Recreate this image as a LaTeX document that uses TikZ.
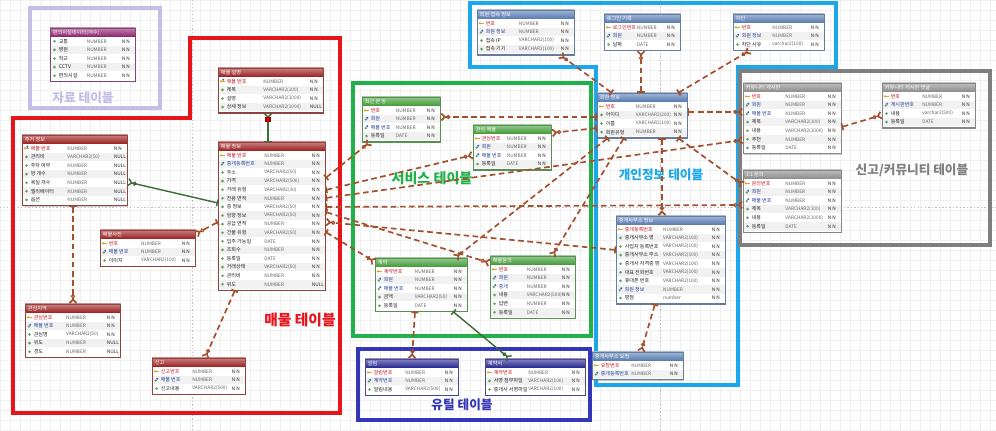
\documentclass[tikz,border=0pt]{standalone}
\usepackage{fontspec}
\setmainfont{Noto Sans CJK KR}
\usetikzlibrary{calc,arrows.meta,shadows}

\definecolor{hdrpurple}{HTML}{8B1F6C}
\definecolor{hdrred}{HTML}{9B1B1B}
\definecolor{hdrgreen}{HTML}{3F9A35}
\definecolor{hdrnavy}{HTML}{22228F}
\definecolor{hdrsteel}{HTML}{5579B0}
\definecolor{hdrgray}{HTML}{8A8A8A}
\definecolor{boxlav}{HTML}{C5BDE6}
\definecolor{boxred}{HTML}{E8141C}
\definecolor{boxgreen}{HTML}{22B04A}
\definecolor{boxnavy}{HTML}{3436B8}
\definecolor{boxcyan}{HTML}{1AA7EC}
\definecolor{boxgray}{HTML}{7F7F7F}
\definecolor{relbrown}{HTML}{A5502D}
\definecolor{idgreen}{HTML}{3D6B35}
\definecolor{pkred}{HTML}{C8141E}
\definecolor{fkblue}{HTML}{1E3C96}
\definecolor{coltext}{HTML}{222222}
\definecolor{colgreen}{HTML}{5AA05A}
\definecolor{keyyellow}{HTML}{D9A520}
\definecolor{fkicon}{HTML}{3C64C8}
\definecolor{rowshade}{HTML}{F1F1F1}

\tikzset{
  tblbox/.style={anchor=north west, inner sep=0pt, fill=white, line width=0.4pt,
    drop shadow={shadow xshift=0.8pt, shadow yshift=-0.8pt, opacity=0.35}},
  tbltitle/.style={anchor=west, inner sep=0pt, text=white, font=\fontsize{3.7}{4}\selectfont},
  colname/.style={anchor=west, inner sep=0pt, font=\fontsize{3.6}{4}\selectfont},
  coltype/.style={anchor=west, inner sep=0pt, text=black!60, font=\fontsize{3.4}{4}\selectfont},
  colnull/.style={anchor=west, inner sep=0pt, text=black!85, font=\fontsize{3.4}{4}\selectfont},
  grp/.style={line width=2.2pt},
  grplabel/.style={inner sep=0pt, font=\fontsize{9}{10}\selectfont\bfseries},
  rel/.style={draw=relbrown, line width=1.2pt, dash pattern=on 4pt off 2.5pt,
    {Bar[width=5pt]}-{Circle[open,length=3pt,line width=0.8pt]Straight Barb[reversed,length=2.5pt,width=5pt]}},
  idrel/.style={draw=idgreen, line width=1pt,
    {Bar[width=5pt]}-{Circle[open,length=3pt,line width=0.8pt]Straight Barb[reversed,length=2.5pt,width=5pt]}},
  selmark/.style={fill=red, draw=red!60!black, minimum size=3pt, inner sep=0pt},
  pagebreak/.style={draw=black!25, line width=0.4pt, dash pattern=on 1pt off 1.5pt}
}

% table: name, x, y, width, header colour, title, rows, columns (kind/name/type/null)
\newcommand{\ertable}[8]{%
  \node[tblbox, draw=#5!60!gray, minimum width={#4*0.025cm}, minimum height={(10+#7*8.6)*0.025cm}] (#1) at (#2,#3) {};
  \shade[top color=#5!55!white, bottom color=#5] (#1.north west) rectangle ($(#1.north east)+(0,9)$);
  \node[tbltitle] (#1-title) at ($(#1.north west)+(2.5,4.5)$) {#6};
  \foreach \kk/\cn/\ct/\cnull [count=\i] in {#8}{%
    \pgfmathsetmacro{\ry}{9+(\i-0.5)*8.6}
    \ifodd\i\else
      \fill[rowshade] ($(#1.north west)+(0.4,\ry-4.3)$) rectangle ($(#1.north east)+(-0.4,\ry+4.3)$);
    \fi
    \ifcase\kk\relax
      \def\nc{coltext}
      \fill[colgreen] ($(#1.north west)+(4.5,\ry)$) circle (1pt);
    \or
      \def\nc{pkred}
      \fill[keyyellow] ($(#1.north west)+(3,\ry)$) circle (0.9pt);
      \draw[keyyellow, line width=0.5pt] ($(#1.north west)+(3,\ry)$) -- ++(3.5,0);
    \or
      \def\nc{fkblue}
      \fill[colgreen] ($(#1.north west)+(3.8,\ry+0.6)$) circle (0.9pt);
      \fill[fkicon] ($(#1.north west)+(5.2,\ry-1.2)$) circle (0.8pt);
    \or
      \def\nc{pkred}
      \fill[keyyellow] ($(#1.north west)+(3,\ry)$) circle (0.9pt);
      \draw[keyyellow, line width=0.5pt] ($(#1.north west)+(3,\ry)$) -- ++(3.5,0);
      \fill[fkicon] ($(#1.north west)+(5.2,\ry-1.5)$) circle (0.8pt);
    \fi
    \node[colname, text=\nc] (#1-c\i) at ($(#1.north west)+(8.5,\ry)$) {\cn};
    \node[coltype] (#1-t\i) at ($(#1.north west)+(#4*0.43,\ry)$) {\ct};
    \node[colnull] (#1-n\i) at ($(#1.north east)+(-14,\ry)$) {\cnull};
  }
  \draw[draw=#5!60!gray, line width=0.4pt] (#1.north west) rectangle (#1.south east);
}

\begin{document}
\begin{tikzpicture}[x=0.025cm, y=-0.025cm]
\fill[white] (0,0) rectangle (996,431);
\useasboundingbox (0,0) rectangle (996,431);
\draw[black!6, line width=0.2pt, step=0.25cm] (0,431) grid (996,0);
\draw[pagebreak] (192,0) -- (192,431);
\draw[pagebreak] (660,0) -- (660,431);
\draw[pagebreak] (0,207) -- (996,207);

% group frames
\draw[grp, draw=boxlav] (30,8) rectangle (160,108);
\draw[grp, draw=boxred] (13,118) -- (190,118) -- (190,38) -- (340,38) -- (340,413) -- (13,413) -- cycle;
\draw[grp, draw=boxgreen] (353,83) rectangle (591,336);
\draw[grp, draw=boxnavy] (358,349) rectangle (590,420);
\draw[grp, draw=boxcyan, line width=3pt] (470,3) -- (836,3) -- (836,67) -- (738,67) -- (738,385) -- (596,385) -- (596,67) -- (470,67) -- cycle;
\draw[grp, draw=boxgray, line width=3pt] (740,71) rectangle (990,245);

\node[grplabel, text=boxlav] (lbl-data) at (83,98) {자료 테이블};
\node[grplabel, text=boxred, font=\fontsize{10.5}{12}\selectfont\bfseries] (lbl-house) at (300,320) {매물 테이블};
\node[grplabel, text=boxgreen, font=\fontsize{10}{12}\selectfont\bfseries] (lbl-svc) at (432,178) {서비스 테이블};
\node[grplabel, text=boxnavy] (lbl-util) at (462,405) {유틸 테이블};
\node[grplabel, text=boxcyan] (lbl-priv) at (661,175) {개인정보 테이블};
\node[grplabel, text=boxgray] (lbl-comm) at (912,170) {신고/커뮤니티 테이블};

% tables
\ertable{datatbl}{50}{28}{85}{hdrpurple}{편의시설데이터(개수)}{5}{0/교통/NUMBER/N N, 0/병원/NUMBER/N N, 0/학교/NUMBER/N N, 0/CCTV/NUMBER/N N, 0/편의시설/NUMBER/N N}
\ertable{house}{22}{135}{105}{hdrred}{주거 정보}{7}{3/매물 번호/NUMBER/N N, 0/관리비/VARCHAR2(50)/NULL, 0/주차 여부/NUMBER/NULL, 0/방 개수/NUMBER/NULL, 0/욕실 개수/NUMBER/NULL, 0/엘리베이터/NUMBER/NULL, 0/옵션/NUMBER/NULL}
\ertable{mdesc}{218}{68}{105}{hdrred}{매물 설명}{4}{3/매물 번호/NUMBER/N N, 0/제목/VARCHAR2(100)/N N, 0/설명/VARCHAR2(1000)/N N, 0/상세 정보/VARCHAR2(1000)/NULL}
\ertable{minfo}{218}{142}{107}{hdrred}{매물 정보}{16}{1/매물 번호/NUMBER/N N, 2/중개등록번호/NUMBER/N N, 0/주소/VARCHAR2(50)/N N, 0/가격/VARCHAR2(500)/N N, 0/거래 유형/VARCHAR2(30)/N N, 0/전용 면적/NUMBER/N N, 0/층 정보/VARCHAR2(50)/N N, 0/방향 정보/VARCHAR2(50)/N N, 0/공급 면적/NUMBER/N N, 0/건물 유형/VARCHAR2(50)/N N, 0/입주 가능일/DATE/N N, 0/조회수/NUMBER/N N, 0/등록일/DATE/N N, 0/거래상태/VARCHAR2(50)/N N, 0/관리비/NUMBER/N N, 0/위도/NUMBER/NULL}
\ertable{mphoto}{100}{230}{95}{hdrred}{매물사진}{3}{1/번호/NUMBER/N N, 2/매물 번호/NUMBER/N N, 0/이미지/VARCHAR2(100)/N N}
\ertable{fav0}{25}{304}{95}{hdrred}{관심지역}{5}{1/관심번호/NUMBER/N N, 2/매물 번호/NUMBER/N N, 0/관심명/VARCHAR2(50)/N N, 0/위도/NUMBER/NULL, 0/경도/NUMBER/NULL}
\ertable{report}{152}{358}{93}{hdrred}{신고}{3}{1/신고번호/NUMBER/N N, 2/매물 번호/NUMBER/N N, 0/신고내용/VARCHAR2(500)/N N}

\ertable{recent}{362}{97}{78}{hdrgreen}{최근 본 방}{4}{1/번호/NUMBER/N N, 2/회원/NUMBER/N N, 2/매물 번호/NUMBER/N N, 0/등록일/DATE/N N}
\ertable{like}{473}{125}{78}{hdrgreen}{관심 매물}{4}{1/관심번호/NUMBER/N N, 2/회원/NUMBER/N N, 2/매물 번호/NUMBER/N N, 0/등록일/DATE/N N}
\ertable{contract}{375}{258}{92}{hdrgreen}{계약}{5}{1/계약번호/NUMBER/N N, 2/회원/NUMBER/N N, 2/매물 번호/NUMBER/N N, 0/금액/VARCHAR2(50)/N N, 0/등록일/DATE/N N}
\ertable{inquiry}{490}{256}{85}{hdrgreen}{매물문의}{6}{1/번호/NUMBER/N N, 2/회원/NUMBER/N N, 2/중개/NUMBER/N N, 0/내용/VARCHAR2(500)/N N, 0/답변/NUMBER/N N, 0/등록일/DATE/N N}

\ertable{alarm}{365}{359}{93}{hdrnavy}{알림}{3}{1/알림번호/NUMBER/N N, 2/계약번호/NUMBER/N N, 0/알림내용/VARCHAR2(500)/N N}
\ertable{contdoc}{485}{359}{100}{hdrnavy}{계약서}{3}{1/계약번호/NUMBER/N N, 0/서명 첨부파일/VARCHAR2(100)/N N, 0/중개사 서명파일/VARCHAR2(100)/N N}

\ertable{login}{477}{10}{97}{hdrsteel}{회원 접속 정보}{4}{1/번호/NUMBER/N N, 2/회원 정보/NUMBER/N N, 0/접속 IP/VARCHAR2(100)/N N, 0/접속 기기/VARCHAR2(100)/N N}
\ertable{visit}{604}{14}{76}{hdrsteel}{로그인 기록}{3}{1/로그인번호/NUMBER/N N, 2/회원/NUMBER/N N, 0/날짜/DATE/N N}
\ertable{block}{733}{14}{91}{hdrsteel}{차단}{3}{1/번호/NUMBER/N N, 2/회원 정보/NUMBER/N N, 0/차단 사유/varchar2(100)/N N}
\ertable{member}{597}{93}{90}{hdrsteel}{회원 정보}{4}{1/번호/NUMBER/N N, 0/아이디/VARCHAR2(200)/N N, 0/이름/VARCHAR2(100)/N N, 0/회원유형/NUMBER/N N}
\ertable{agent}{616}{216}{109}{hdrsteel}{중개사무소 정보}{9}{1/중개등록번호/NUMBER/N N, 0/중개사무소 명/VARCHAR2(100)/N N, 0/사업자 등록번호/VARCHAR2(100)/N N, 0/중개사무소 주소/VARCHAR2(500)/N N, 0/중개사 자격증 명/VARCHAR2(100)/N N, 0/대표 전화번호/VARCHAR2(100)/N N, 0/휴대폰 번호/VARCHAR2(100)/N N, 2/회원 정보/NUMBER/N N, 0/평점/number/N N}
\ertable{agreq}{592}{352}{91}{hdrsteel}{중개사무소 요청}{2}{1/요청번호/NUMBER/N N, 2/중개등록번호/NUMBER/N N}

\ertable{board}{743}{83}{98}{hdrgray}{커뮤니티 게시판}{7}{1/번호/NUMBER/N N, 2/회원/NUMBER/N N, 2/매물 번호/NUMBER/N N, 0/제목/VARCHAR2(100)/N N, 0/내용/VARCHAR2(1000)/N N, 0/추천/NUMBER/N N, 0/등록일/DATE/N N}
\ertable{reply}{882}{83}{93}{hdrgray}{커뮤니티 게시판 댓글}{4}{1/번호/NUMBER/N N, 2/게시판번호/NUMBER/N N, 0/내용/varchar2(500)/N N, 0/등록일/DATE/N N}
\ertable{qna}{743}{170}{98}{hdrgray}{1:1 문의}{6}{1/문의번호/NUMBER/N N, 2/회원/NUMBER/N N, 2/매물 번호/NUMBER/N N, 0/제목/VARCHAR2(100)/N N, 0/내용/VARCHAR2(1000)/N N, 0/등록일/DATE/N N}

% identifying relations
\draw[idrel] (minfo.west |- 0,203) -- (house.east |- 0,182);
\draw[idrel] (minfo.north -| 268,0) -- node[pos=0.77, selmark] (sel) {} (mdesc.south -| 268,0);
\draw[idrel] (contract.south -| 453,0) -- (contdoc.north -| 510,0);

% other relations
\draw[rel] (house.south -| 73,0) -- (fav0.north -| 73,0);
\draw[rel] (minfo.west |- 0,222) -- (mphoto.east |- 0,234);
\draw[rel] (minfo.south -| 235,0) -- (report.north -| 205,0);
\draw[rel] (minfo.east |- 0,178) -- (recent.south -| 370,0);
\draw[rel] (minfo.east |- 0,190) -- (like.west |- 0,155);
\draw[rel] (minfo.east |- 0,232) -- (contract.west |- 0,262);
\draw[rel] (minfo.east |- 0,212) -- (inquiry.west |- 0,263);
\draw[rel] (minfo.east |- 0,198) -- (board.west |- 0,140);
\draw[rel] (minfo.east |- 0,207) -- (qna.west |- 0,205);
\draw[rel] (agent.west |- 0,250) -- (minfo.east |- 0,222);

\draw[rel] (member.north -| 612,0) -- (login.south -| 560,0);
\draw[rel] (member.north -| 641,0) -- (visit.south -| 641,0);
\draw[rel] (member.north -| 678,0) -- (block.south -| 750,0);
\draw[rel] (member.east |- 0,112) -- (board.west |- 0,112);
\draw[rel] (member.west |- 0,117) -- (recent.east |- 0,117);
\draw[rel] (member.west |- 0,128) -- (like.east |- 0,133);
\draw[rel] (member.south -| 608,0) -- (contract.north -| 455,0);
\draw[rel] (member.south -| 624,0) -- (inquiry.north -| 552,0);
\draw[rel] (member.south -| 662,0) -- (agent.north -| 662,0);
\draw[rel] (member.south -| 678,0) -- (qna.west |- 0,185);
\draw[rel] (contract.south -| 415,0) -- (alarm.north -| 412,0);
\draw[rel] (board.east |- 0,127) -- (reply.west |- 0,115);
\draw[rel] (agent.south -| 655,0) -- (agreq.north -| 641,0);
\end{tikzpicture}
\end{document}
